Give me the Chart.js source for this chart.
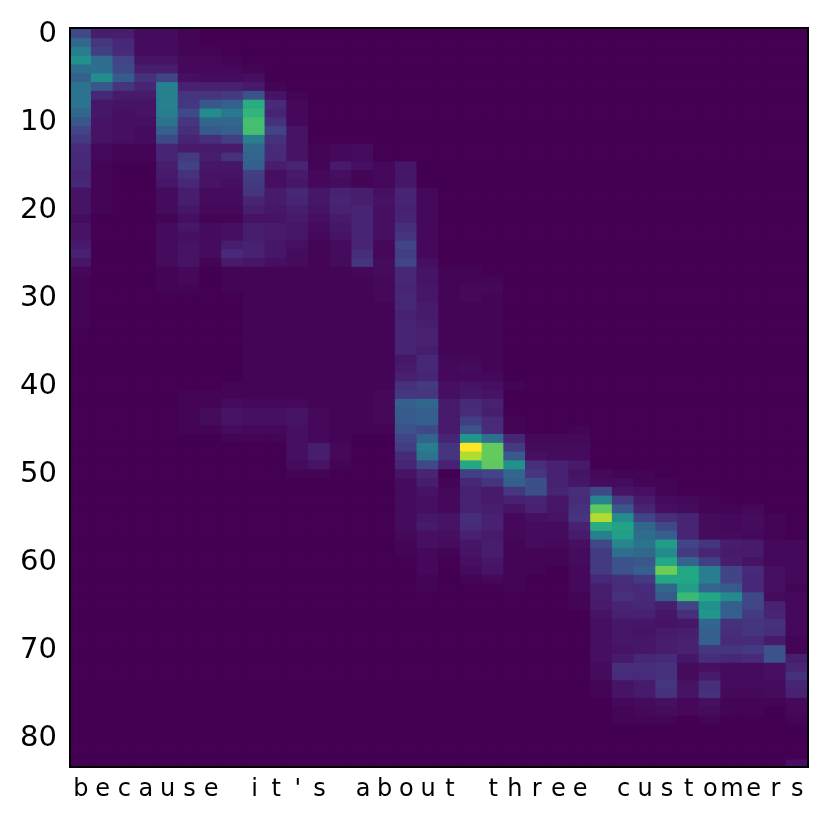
<!DOCTYPE html>
<html>
<head>
<meta charset="utf-8">
<title>attention</title>
<script src="https://cdn.jsdelivr.net/npm/chart.js@4/dist/chart.umd.js"></script>
<style>
    html, body { margin: 0; padding: 0; background: #fff; }
    canvas { display: block; }
</style>
</head>
<body>
<canvas id="myChart" width="829" height="822"></canvas>
<script>
// one letter per column
const chars = ['b','e','c','a','u','s','e',' ','i','t',"'",'s',' ','a','b','o','u','t',' ','t','h','r','e','e',' ','c','u','s','t','o','m','e','r','s'];
const yTicks = [0, 10, 20, 30, 40, 50, 60, 70, 80];
const rowCount = 84;

// attention per column, top row first, in percent. Rows left off the end are 0
const attention = [
    [22,33,42,50,36,31,38,38,38,33, 27,20,17,12,12,12,10,11,5,5, 5,3,5,5,7,9,6,2,1,1, 1,1,1,1],
    [8,16,18,35,36,48,27,11,6,6, 5,5,5,2,2,1,1,1,1,1, 1],
    [8,11,12,20,22,29,15,7,5,4, 4,4,4,1,1],
    [3,3,3,5,8,14,10,7,5,5, 4,3,3,1,1],
    [3,3,3,5,8,20,43,43,43,42, 38,30,22,10,10,8,7,6,3,3, 3,1,3,3,3,3,3,1,1,1],
    [1,1,1,2,2,4,9,15,16,22, 16,13,10,7,17,19,14,11,8,8, 6,4,6,4,5,5,5,2,2,1, 0,0,0,0,0,0,0,0,0,0, 0,1,1,1,1,1],
    [0,0,1,2,2,3,9,15,27,48, 33,28,13,7,8,6,5,5,3,3, 2,1,3,3,3,3,1,0,0,0, 0,0,0,0,0,0,0,0,0,0, 0,1,1,3,3,1],
    [0,0,0,1,2,3,9,17,30,40, 33,30,18,7,14,6,5,4,3,3, 2,1,4,4,8,12,7,1,1,1, 0,0,0,0,0,0,0,0,0,0, 1,1,3,5,5,3,1],
    [0,0,0,0,1,4,7,25,62,65, 70,70,42,34,32,30,18,17,15,10, 8,5,8,8,9,9,6,1,1,1, 1,1,1,1,1,1,1,1,1,1, 1,1,2,4,4,2,1],
    [0,0,0,0,0,0,1,5,12,10, 14,20,14,12,12,8,4,4,7,7, 6,5,7,7,6,6,4,1,1,1, 1,1,1,1,1,1,1,1,1,1, 1,1,2,4,4,2,1],
    [0,0,0,0,0,0,0,1,2,2, 2,5,5,5,5,10,7,6,11,10, 8,7,6,6,4,3,3,1,1,1, 1,1,1,1,1,1,1,1,1,1, 1,1,2,5,5,4,4,4,4,3, 1],
    [0,0,0,0,0,0,0,0,0,0, 0,0,0,1,1,1,2,2,6,6, 5,4,3,2,1,1,1,1,1,1, 1,1,1,1,1,1,1,1,1,1, 1,1,1,2,2,2,2,8,8,5, 1],
    [0,0,0,0,0,0,0,0,0,0, 0,0,0,2,2,7,4,3,9,10, 9,7,6,5,3,3,3,1,1,1, 1,1,1,1,1,1,1,1,1,1, 1,1,1,1,1,1,1,2,2,1],
    [0,0,0,0,0,0,0,0,0,0, 0,0,0,3,3,4,1,1,8,8, 10,10,10,10,10,13,15,2,1,1, 1,1,1,1,1,1,1,1,1,1, 1,1,1,1,1,1],
    [0,0,0,0,0,0,0,0,0,0, 0,0,0,0,0,2,2,2,4,5, 4,4,4,4,2,2,3,3,2,2, 2,1,1,1,1,1,1,1,1,1, 1,2,2,2,2,1],
    [0,0,0,0,0,0,0,0,0,0, 0,0,0,0,0,6,6,6,10,10, 9,10,13,15,20,18,20,11,11,10, 11,11,9,10,10,10,10,6,7,9, 14,16,30,28,28,25,20,18,12,10, 5,3,3,3,3,3,3,2,1,1],
    [0,0,0,0,0,0,0,0,0,0, 0,0,0,0,0,0,0,0,2,2, 2,2,2,2,2,2,4,5,5,6, 6,7,7,8,9,9,8,11,11,10, 17,16,33,30,30,22,32,42,38,22, 10,8,5,4,4,6,7,4,4,2, 2,2,1,1],
    [0,0,0,0,0,0,0,0,0,0, 0,0,0,0,0,0,0,0,0,0, 0,0,0,0,0,0,0,1,1,1, 1,1,1,1,1,1,1,2,2,2, 4,4,7,7,7,7,10,15,15,9, 0,1,2,2,2,5,5,4,3,1],
    [0,0,0,0,0,0,0,0,0,0, 0,0,0,0,0,0,0,0,0,0, 0,0,0,0,0,0,0,1,1,2, 2,1,1,1,1,1,1,2,3,2, 5,6,12,12,18,25,52,100,88,60, 18,11,9,9,9,13,12,9,6,5, 4,3,1],
    [0,0,0,0,0,0,0,0,0,0, 0,0,0,0,0,0,0,0,0,0, 0,0,0,0,0,0,0,0,1,2, 1,1,1,1,1,1,1,1,1,2, 4,5,9,8,12,12,36,76,76,75, 20,15,7,7,8,9,9,7,8,8, 6,5,2],
    [0,0,0,0,0,0,0,0,0,0, 0,0,0,0,0,0,0,0,0,0, 0,0,0,0,0,0,0,0,0,0, 0,0,0,0,0,0,0,0,0,0, 1,0,0,0,1,1,10,17,28,50, 33,30,16,9,5,2,2,2,1,1, 1,1,1,1],
    [0,0,0,0,0,0,0,0,0,0, 0,0,0,0,0,0,0,0,0,0, 0,0,0,0,0,0,0,0,0,0, 0,0,0,0,0,0,0,0,0,0, 0,0,0,0,0,0,2,3,4,13, 16,24,24,10,9,4,3,3,3,1, 1,1],
    [0,0,0,0,0,0,0,0,0,0, 0,0,0,0,0,0,0,0,0,0, 0,0,0,0,0,0,0,0,0,0, 0,0,0,0,0,0,0,0,0,0, 0,0,0,0,0,0,2,3,3,9, 9,9,10,6,6,5,3,3,2,1, 1],
    [0,0,0,0,0,0,0,0,0,0, 0,0,0,0,0,0,0,0,0,0, 0,0,0,0,0,0,0,0,0,0, 0,0,0,0,0,0,0,0,0,0, 0,0,0,0,0,1,2,3,3,7, 5,6,13,12,14,15,9,7,4,3, 3,2,2,2,1,1],
    [0,0,0,0,0,0,0,0,0,0, 0,0,0,0,0,0,0,0,0,0, 0,0,0,0,0,0,0,0,0,0, 0,0,0,0,0,0,0,0,0,0, 0,0,0,0,0,0,0,0,0,0, 2,3,22,45,75,88,62,43,22,17, 17,17,11,8,8,7,5,4,4,4, 4,4,3,3,1,1],
    [0,0,0,0,0,0,0,0,0,0, 0,0,0,0,0,0,0,0,0,0, 0,0,0,0,0,0,0,0,0,0, 0,0,0,0,0,0,0,0,0,0, 0,0,0,0,0,0,0,0,0,0, 1,3,5,17,27,48,58,55,45,36, 25,25,13,12,14,10,9,6,6,6, 5,7,13,12,5,5,2,1,1],
    [0,0,0,0,0,0,0,0,0,0, 0,0,0,0,0,0,0,0,0,0, 0,0,0,0,0,0,0,0,0,0, 0,0,0,0,0,0,0,0,0,0, 0,0,0,0,0,0,0,0,0,0, 1,1,4,7,10,20,33,35,38,34, 27,30,17,12,12,11,9,6,5,6, 6,11,13,12,7,7,3,2,1],
    [0,0,0,0,0,0,0,0,0,0, 0,0,0,0,0,0,0,0,0,0, 0,0,0,0,0,0,0,0,0,0, 0,0,0,0,0,0,0,0,0,0, 0,0,0,0,0,0,0,0,0,0, 0,1,1,3,4,13,22,30,55,47, 60,78,60,33,28,8,6,5,7,8, 8,12,14,14,16,14,4,3,1],
    [0,0,0,0,0,0,0,0,0,0, 0,0,0,0,0,0,0,0,0,0, 0,0,0,0,0,0,0,0,0,0, 0,0,0,0,0,0,0,0,0,0, 0,0,0,0,0,0,0,0,0,0, 0,0,0,2,3,10,10,10,20,17, 32,60,60,55,67,20,13,6,8,9, 9,6,3,3,5,5,2,2],
    [0,0,0,0,0,0,0,0,0,0, 0,0,0,0,0,0,0,0,0,0, 0,0,0,0,0,0,0,0,0,0, 0,0,0,0,0,0,0,0,0,0, 0,0,0,0,0,0,0,0,0,0, 0,0,0,1,1,3,3,3,15,10, 18,42,42,32,60,50,52,33,30,30, 16,13,4,7,13,14,4,3,1],
    [0,0,0,0,0,0,0,0,0,0, 0,0,0,0,0,0,0,0,0,0, 0,0,0,0,0,0,0,0,0,0, 0,0,0,0,0,0,0,0,0,0, 0,0,0,0,0,0,0,0,0,0, 0,0,0,0,1,2,2,3,8,7, 8,20,20,28,47,30,30,14,13,12, 15,11,3,3,3,2,1,1],
    [0,0,0,0,0,0,0,0,0,0, 0,0,0,0,0,0,0,0,0,0, 0,0,0,0,0,0,0,0,0,0, 0,0,0,0,0,0,0,0,0,0, 0,0,0,0,0,0,0,0,0,0, 0,0,0,0,2,3,3,2,7,7, 5,12,11,11,22,20,17,15,15,12, 17,12,3,3,3,2,1,1],
    [0,0,0,0,0,0,0,0,0,0, 0,0,0,0,0,0,0,0,0,0, 0,0,0,0,0,0,0,0,0,0, 0,0,0,0,0,0,0,0,0,0, 0,0,0,0,0,0,0,0,0,0, 0,0,0,0,0,1,1,1,2,2, 2,4,4,4,3,9,10,14,13,7, 25,25,4,4,3,3,1],
    [0,0,0,0,0,0,0,0,0,0, 0,0,0,0,0,0,0,0,0,0, 0,0,0,0,0,0,0,0,0,0, 0,0,0,0,0,0,0,0,0,0, 0,0,0,0,0,0,0,0,0,0, 0,0,0,0,0,0,0,0,2,2, 2,2,2,1,2,2,2,2,2,1, 1,8,10,14,10,9,2,2,1,0, 0,0,0,4]
];

const viridis = [[68,1,84],[72,36,117],[65,68,135],[53,95,141],[42,120,142],[33,145,140],[34,168,132],[68,191,112],[122,209,81],[189,223,38],[253,231,37]];

const cellColor = (pct) => {
    const pos = Math.min(pct / 10, 9.999);
    const low = Math.floor(pos);
    const t = pos - low;
    const c = viridis[low].map((v, i) => Math.round(v + (viridis[low + 1][i] - v) * t));
    return `rgb(${c[0]},${c[1]},${c[2]})`;
};

// one floating-bar dataset per row, a bit oversized so no seams show between cells
const datasets = [];
for (let row = 0; row < rowCount; row++) {
    datasets.push({
        data: chars.map(() => [row - 0.5, row + 0.65]),
        backgroundColor: attention.map(col => cellColor(col[row] ?? 0)),
        borderWidth: 0,
        barPercentage: 1.07,
        categoryPercentage: 1,
        grouped: false
    });
}

const framePlugin = {
    id: 'frame',
    afterDraw(chart) {
        const { ctx, chartArea: a } = chart;
        ctx.save();
        ctx.strokeStyle = '#000';
        ctx.lineWidth = 2;
        ctx.strokeRect(a.left, a.top, a.right - a.left, a.bottom - a.top);
        ctx.restore();
    }
};

const config = {
    type: 'bar',
    data: { labels: chars, datasets: datasets },
    plugins: [framePlugin],
    options: {
        responsive: false,
        animation: false,
        layout: { padding: { top: 28, right: 21, left: 0, bottom: 0 } },
        plugins: { legend: { display: false }, tooltip: { enabled: false } },
        scales: {
            x: {
                type: 'category',
                grid: { display: false, drawTicks: false },
                border: { display: false },
                afterFit: (scale) => {
                    scale.height = 55;
                    scale.paddingLeft = 0;
                    scale.paddingRight = 0;
                },
                ticks: {
                    autoSkip: false,
                    maxRotation: 0,
                    minRotation: 0,
                    padding: 8,
                    color: '#000',
                    font: { family: 'DejaVu Sans', size: 24 }
                }
            },
            y: {
                type: 'linear',
                reverse: true,
                min: -0.5,
                max: rowCount - 0.5,
                grid: { display: false, drawTicks: false },
                border: { display: false },
                afterFit: (scale) => {
                    scale.width = 70;
                    scale.paddingTop = 0;
                    scale.paddingBottom = 0;
                },
                afterBuildTicks: (scale) => { scale.ticks = yTicks.map(v => ({ value: v })); },
                ticks: {
                    padding: 13,
                    labelOffset: 2,
                    color: '#000',
                    font: { family: 'DejaVu Sans', size: 29 }
                }
            }
        }
    }
};

new Chart(document.getElementById('myChart'), config);
</script>
</body>
</html>
